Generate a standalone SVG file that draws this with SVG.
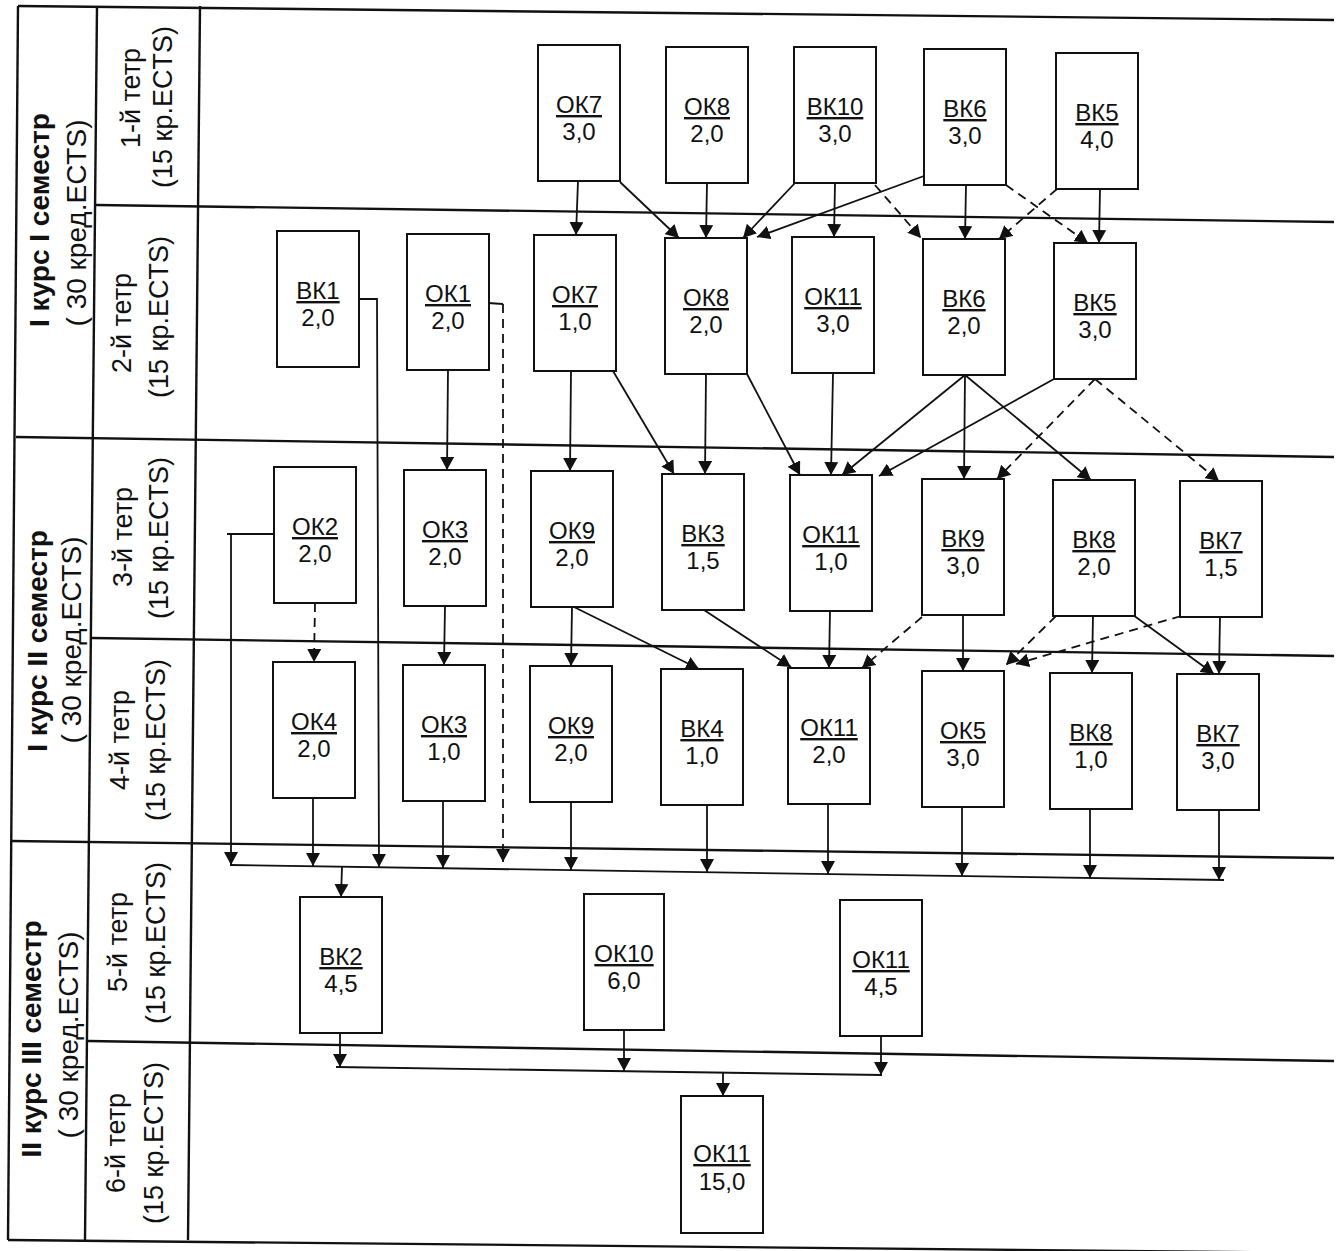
<svg xmlns="http://www.w3.org/2000/svg" width="1338" height="1251" viewBox="0 0 1338 1251">
<defs>
<marker id="arr" markerUnits="userSpaceOnUse" viewBox="0 0 13 14" refX="13" refY="7" markerWidth="13" markerHeight="14" orient="auto"><path d="M0,0 L13,7 L0,14 z" fill="#111"/></marker>
<style>
.grid{stroke:#111;stroke-width:2.4;fill:none}
.box{fill:#fff;stroke:#111;stroke-width:2}
.c{stroke:#111;stroke-width:1.8;fill:none}
.a{marker-end:url(#arr)}
.d{stroke-dasharray:9 6}
.lab{font-family:"Liberation Sans",Arial,sans-serif;font-size:24px;fill:#111;text-anchor:middle}
.u{text-decoration:underline}
.sem{font-family:"Liberation Sans",Arial,sans-serif;font-size:28px;fill:#111;text-anchor:middle}
.b{font-weight:bold}
.tet{font-family:"Liberation Sans",Arial,sans-serif;font-size:27px;fill:#111;text-anchor:middle}
</style>
</defs>
<rect width="1338" height="1251" fill="#fff"/>
<g id="grid" class="grid">
<line x1="18" y1="6" x2="1334" y2="20"/>
<line x1="18" y1="6" x2="8" y2="1240"/>
<line x1="97" y1="6" x2="85" y2="1240"/>
<line x1="200" y1="6" x2="188" y2="1240"/>
<line x1="16" y1="437" x2="1334" y2="457"/>
<line x1="11" y1="841" x2="1334" y2="858"/>
<line x1="8" y1="1240" x2="1334" y2="1253"/>
<line x1="96" y1="205" x2="1334" y2="222"/>
<line x1="92" y1="638" x2="1334" y2="656"/>
<line x1="88" y1="1041" x2="1334" y2="1061"/>
</g>
<g id="labels">
<text class="sem b" transform="translate(49,220) rotate(-90)">I курс I семестр</text>
<text class="sem" transform="translate(86,223) rotate(-90)">( 30 кред.ECTS)</text>
<text class="sem b" transform="translate(47,641) rotate(-90)">I курс II семестр</text>
<text class="sem" transform="translate(81,640) rotate(-90)">( 30 кред.ECTS)</text>
<text class="sem b" transform="translate(41,1039) rotate(-90)">II курс III семестр</text>
<text class="sem" transform="translate(78,1035) rotate(-90)">( 30 кред.ECTS)</text>
<text class="tet" transform="translate(140,98) rotate(-90)">1-й тетр</text>
<text class="tet" transform="translate(172,107) rotate(-90)">(15 кр.ECTS)</text>
<text class="tet" transform="translate(131,323) rotate(-90)">2-й тетр</text>
<text class="tet" transform="translate(168,317) rotate(-90)">(15 кр.ECTS)</text>
<text class="tet" transform="translate(132,537) rotate(-90)">3-й тетр</text>
<text class="tet" transform="translate(168,538) rotate(-90)">(15 кр.ECTS)</text>
<text class="tet" transform="translate(129,740) rotate(-90)">4-й тетр</text>
<text class="tet" transform="translate(165,740) rotate(-90)">(15 кр.ECTS)</text>
<text class="tet" transform="translate(127,942) rotate(-90)">5-й тетр</text>
<text class="tet" transform="translate(165,943) rotate(-90)">(15 кр.ECTS)</text>
<text class="tet" transform="translate(125,1143) rotate(-90)">6-й тетр</text>
<text class="tet" transform="translate(163,1143) rotate(-90)">(15 кр.ECTS)</text>
</g>
<g id="connectors">
<path class="c a" d="M578,181 L576,235"/>
<path class="c a" d="M620,182 L679,238"/>
<path class="c a" d="M707,183 L706,238"/>
<path class="c a" d="M795,183 L743,238"/>
<path class="c a" d="M924,176 L757,237"/>
<path class="c a" d="M835,183 L834,237"/>
<path class="c a d" d="M875,185 L921,238"/>
<path class="c a" d="M966,185 L965,239"/>
<path class="c a d" d="M1057,189 L999,239"/>
<path class="c a d" d="M1006,185 L1088,243"/>
<path class="c a" d="M1100,189 L1099,243"/>
<path class="c a" d="M448,370 L447,470"/>
<path class="c a" d="M571,371 L570,471"/>
<path class="c a" d="M613,371 L674,474"/>
<path class="c a" d="M706,374 L705,474"/>
<path class="c a" d="M747,374 L800,475"/>
<path class="c a" d="M833,373 L831,475"/>
<path class="c a" d="M965,375 L842,475"/>
<path class="c a" d="M965,375 L964,479"/>
<path class="c a" d="M965,375 L1091,480"/>
<path class="c a" d="M1054,379 L879,476"/>
<path class="c a d" d="M1095,379 L997,479"/>
<path class="c a d" d="M1095,379 L1219,481"/>
<path class="c a" d="M358,299 L377,299 L379,867"/>
<path class="c" d="M488,303 L503,304"/>
<path class="c a d" d="M503,304 L503,862"/>
<path class="c a" d="M274,534 L227,534 M231,534 L231,865"/>
<path class="c a d" d="M315,603 L314,662"/>
<path class="c a" d="M445,606 L444,665"/>
<path class="c a" d="M572,607 L571,666"/>
<path class="c a" d="M574,607 L699,669"/>
<path class="c a" d="M704,610 L791,667"/>
<path class="c a" d="M830,611 L829,668"/>
<path class="c a d" d="M922,617 L862,668"/>
<path class="c a" d="M963,615 L963,671"/>
<path class="c a d" d="M1056,616 L1006,665"/>
<path class="c a d" d="M1181,616 L1016,664"/>
<path class="c a" d="M1093,615 L1092,673"/>
<path class="c a" d="M1133,615 L1214,674"/>
<path class="c a" d="M1220,616 L1219,674"/>
<path class="c" d="M230,865 L1224,880"/>
<path class="c a" d="M313,798 L313,866"/>
<path class="c a" d="M443,801 L443,868"/>
<path class="c a" d="M571,802 L571,870"/>
<path class="c a" d="M707,805 L707,872"/>
<path class="c a" d="M828,804 L828,874"/>
<path class="c a" d="M962,807 L962,876"/>
<path class="c a" d="M1090,809 L1090,878"/>
<path class="c a" d="M1219,810 L1219,880"/>
<path class="c a" d="M342,867 L341,897"/>
<path class="c" d="M336,1067 L882,1075"/>
<path class="c a" d="M340,1033 L340,1067"/>
<path class="c a" d="M624,1030 L624,1071"/>
<path class="c a" d="M881,1036 L881,1075"/>
<path class="c a" d="M723,1073 L723,1096"/>
</g>
<g id="n1"><rect class="box" x="538" y="45" width="82" height="136"/><text class="lab u" x="579" y="113">ОК7</text><text class="lab" x="579" y="140">3,0</text></g>
<g id="n2"><rect class="box" x="666" y="47" width="82" height="136"/><text class="lab u" x="707" y="115">ОК8</text><text class="lab" x="707" y="142">2,0</text></g>
<g id="n3"><rect class="box" x="794" y="47" width="82" height="136"/><text class="lab u" x="835" y="115">ВК10</text><text class="lab" x="835" y="142">3,0</text></g>
<g id="n4"><rect class="box" x="924" y="49" width="82" height="136"/><text class="lab u" x="965" y="117">ВК6</text><text class="lab" x="965" y="144">3,0</text></g>
<g id="n5"><rect class="box" x="1056" y="53" width="82" height="136"/><text class="lab u" x="1097" y="121">ВК5</text><text class="lab" x="1097" y="148">4,0</text></g>
<g id="n6"><rect class="box" x="277" y="231" width="82" height="136"/><text class="lab u" x="318" y="299">ВК1</text><text class="lab" x="318" y="326">2,0</text></g>
<g id="n7"><rect class="box" x="407" y="234" width="82" height="136"/><text class="lab u" x="448" y="302">ОК1</text><text class="lab" x="448" y="329">2,0</text></g>
<g id="n8"><rect class="box" x="534" y="235" width="82" height="136"/><text class="lab u" x="575" y="303">ОК7</text><text class="lab" x="575" y="330">1,0</text></g>
<g id="n9"><rect class="box" x="665" y="238" width="82" height="136"/><text class="lab u" x="706" y="306">ОК8</text><text class="lab" x="706" y="333">2,0</text></g>
<g id="n10"><rect class="box" x="792" y="237" width="82" height="136"/><text class="lab u" x="833" y="305">ОК11</text><text class="lab" x="833" y="332">3,0</text></g>
<g id="n11"><rect class="box" x="923" y="239" width="82" height="136"/><text class="lab u" x="964" y="307">ВК6</text><text class="lab" x="964" y="334">2,0</text></g>
<g id="n12"><rect class="box" x="1054" y="243" width="82" height="136"/><text class="lab u" x="1095" y="311">ВК5</text><text class="lab" x="1095" y="338">3,0</text></g>
<g id="n13"><rect class="box" x="274" y="467" width="82" height="136"/><text class="lab u" x="315" y="535">ОК2</text><text class="lab" x="315" y="562">2,0</text></g>
<g id="n14"><rect class="box" x="404" y="470" width="82" height="136"/><text class="lab u" x="445" y="538">ОК3</text><text class="lab" x="445" y="565">2,0</text></g>
<g id="n15"><rect class="box" x="531" y="471" width="82" height="136"/><text class="lab u" x="572" y="539">ОК9</text><text class="lab" x="572" y="566">2,0</text></g>
<g id="n16"><rect class="box" x="662" y="474" width="82" height="136"/><text class="lab u" x="703" y="542">ВК3</text><text class="lab" x="703" y="569">1,5</text></g>
<g id="n17"><rect class="box" x="790" y="475" width="82" height="136"/><text class="lab u" x="831" y="543">ОК11</text><text class="lab" x="831" y="570">1,0</text></g>
<g id="n18"><rect class="box" x="922" y="479" width="82" height="136"/><text class="lab u" x="963" y="547">ВК9</text><text class="lab" x="963" y="574">3,0</text></g>
<g id="n19"><rect class="box" x="1053" y="480" width="82" height="136"/><text class="lab u" x="1094" y="548">ВК8</text><text class="lab" x="1094" y="575">2,0</text></g>
<g id="n20"><rect class="box" x="1180" y="481" width="82" height="136"/><text class="lab u" x="1221" y="549">ВК7</text><text class="lab" x="1221" y="576">1,5</text></g>
<g id="n21"><rect class="box" x="273" y="662" width="82" height="136"/><text class="lab u" x="314" y="730">ОК4</text><text class="lab" x="314" y="757">2,0</text></g>
<g id="n22"><rect class="box" x="403" y="665" width="82" height="136"/><text class="lab u" x="444" y="733">ОК3</text><text class="lab" x="444" y="760">1,0</text></g>
<g id="n23"><rect class="box" x="530" y="666" width="82" height="136"/><text class="lab u" x="571" y="734">ОК9</text><text class="lab" x="571" y="761">2,0</text></g>
<g id="n24"><rect class="box" x="661" y="669" width="82" height="136"/><text class="lab u" x="702" y="737">ВК4</text><text class="lab" x="702" y="764">1,0</text></g>
<g id="n25"><rect class="box" x="788" y="668" width="82" height="136"/><text class="lab u" x="829" y="736">ОК11</text><text class="lab" x="829" y="763">2,0</text></g>
<g id="n26"><rect class="box" x="922" y="671" width="82" height="136"/><text class="lab u" x="963" y="739">ОК5</text><text class="lab" x="963" y="766">3,0</text></g>
<g id="n27"><rect class="box" x="1050" y="673" width="82" height="136"/><text class="lab u" x="1091" y="741">ВК8</text><text class="lab" x="1091" y="768">1,0</text></g>
<g id="n28"><rect class="box" x="1177" y="674" width="82" height="136"/><text class="lab u" x="1218" y="742">ВК7</text><text class="lab" x="1218" y="769">3,0</text></g>
<g id="n29"><rect class="box" x="300" y="897" width="82" height="136"/><text class="lab u" x="341" y="965">ВК2</text><text class="lab" x="341" y="992">4,5</text></g>
<g id="n30"><rect class="box" x="584" y="894" width="80" height="136"/><text class="lab u" x="624" y="962">ОК10</text><text class="lab" x="624" y="989">6,0</text></g>
<g id="n31"><rect class="box" x="840" y="900" width="82" height="136"/><text class="lab u" x="881" y="968">ОК11</text><text class="lab" x="881" y="995">4,5</text></g>
<g id="n32"><rect class="box" x="681" y="1096" width="82" height="137"/><text class="lab u" x="722" y="1162">ОК11</text><text class="lab" x="722" y="1190">15,0</text></g>
</svg>
